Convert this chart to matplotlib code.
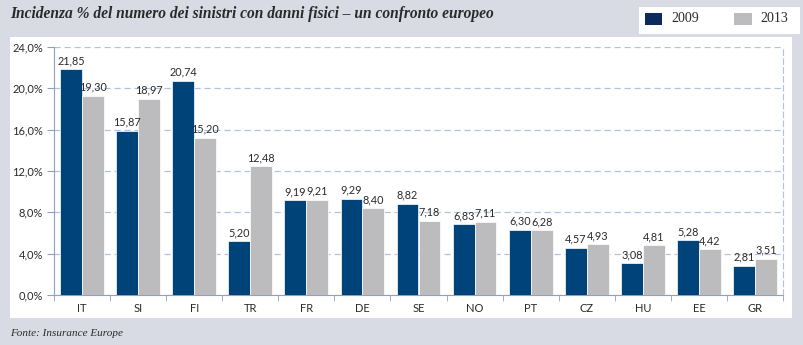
import matplotlib.pyplot as plt
from matplotlib.patches import Rectangle
import numpy as np

countries = ["IT", "SI", "FI", "TR", "FR", "DE", "SE", "NO", "PT", "CZ", "HU", "EE", "GR"]
val_2009 = [21.85, 15.87, 20.74, 5.20, 9.19, 9.29, 8.82, 6.83, 6.30, 4.57, 3.08, 5.28, 2.81]
val_2013 = [19.30, 18.97, 15.20, 12.48, 9.21, 8.40, 7.18, 7.11, 6.28, 4.93, 4.81, 4.42, 3.51]
yticks = [0, 4, 8, 12, 16, 20, 24]

c2009 = "#004378"
c2013 = "#bcbcbf"
bg = "#d9dbe4"
axcol = "#8fa0c4"
txt = "#2a2a2a"

fig = plt.figure(figsize=(8.04, 3.45), dpi=100)
fig.patch.set_facecolor(bg)

W, H = 804, 345
# white panel and legend box
fig.patches.append(Rectangle((10 / W, 1 - 318 / H), 782 / W, 281 / H, transform=fig.transFigure,
                             facecolor="white", edgecolor="none", zorder=0))
fig.patches.append(Rectangle((639 / W, 1 - 34 / H), 161 / W, 27 / H, transform=fig.transFigure,
                             facecolor="white", edgecolor="none", zorder=0))

ax = fig.add_axes([54 / W, 1 - 295 / H, 729 / W, 248 / H])
ax.set_facecolor("none")
ax.set_zorder(2)

x = np.arange(len(countries))
bw = 0.39
b1 = ax.bar(x - bw / 2, val_2009, bw, color=c2009, edgecolor="white", linewidth=0.5, zorder=3)
b2 = ax.bar(x + bw / 2, val_2013, bw, color=c2013, edgecolor="white", linewidth=0.5, zorder=3)

for bars, vals in [(b1, val_2009), (b2, val_2013)]:
    for rect, v in zip(bars, vals):
        ax.text(rect.get_x() + rect.get_width() / 2, v + 0.3, f"{v:.2f}".replace(".", ","),
                ha="center", va="bottom", fontsize=7.8, family="Lato", color=txt, zorder=4)

ax.set_xlim(-0.5, len(countries) - 0.5)
ax.set_ylim(0, 24)
ax.set_yticks(yticks)
ax.set_yticklabels([f"{t:.1f}%".replace(".", ",") for t in yticks], fontsize=8, family="Lato", color=txt)
ax.set_xticks(x)
ax.set_xticklabels(countries, fontsize=8, family="Lato", color=txt)
ax.tick_params(axis="x", length=0, pad=6)
ax.tick_params(axis="y", length=5, color=axcol, pad=3)
ax.set_xticks(np.arange(len(countries) + 1) - 0.5, minor=True)
ax.tick_params(axis="x", which="minor", length=4, color=axcol, direction="out")

ax.grid(axis="y", linestyle=(0, (5, 3)), color="#b3c2dc", linewidth=0.9, zorder=0)
ax.spines["top"].set_visible(False)
ax.spines["right"].set_linestyle((0, (5, 3)))
ax.spines["right"].set_color("#b3c2dc")
ax.spines["left"].set_color(axcol)
ax.spines["bottom"].set_color(axcol)

fig.text(10 / W, 1 - 14 / H, "Incidenza % del numero dei sinistri con danni fisici \u2013 un confronto europeo",
         fontsize=11.2, fontweight="bold", fontstyle="italic", family="Liberation Serif",
         va="center", ha="left", color=txt)
fig.text(10 / W, 1 - 333 / H, "Fonte: Insurance Europe", fontsize=8, fontstyle="italic",
         family="Liberation Serif", va="center", ha="left", color=txt)

# legend
fig.patches.append(Rectangle((645 / W, 1 - 25 / H), 17 / W, 12 / H, transform=fig.transFigure,
                             facecolor="#0b2b5c", edgecolor="none"))
fig.patches.append(Rectangle((734 / W, 1 - 25 / H), 18 / W, 12 / H, transform=fig.transFigure,
                             facecolor=c2013, edgecolor="none"))
fig.text(671 / W, 1 - 19 / H, "2009", fontsize=10, family="Liberation Serif", va="center", color=txt)
fig.text(760 / W, 1 - 19 / H, "2013", fontsize=10, family="Liberation Serif", va="center", color=txt)

fig.savefig("out.png", dpi=100, facecolor=fig.get_facecolor())
